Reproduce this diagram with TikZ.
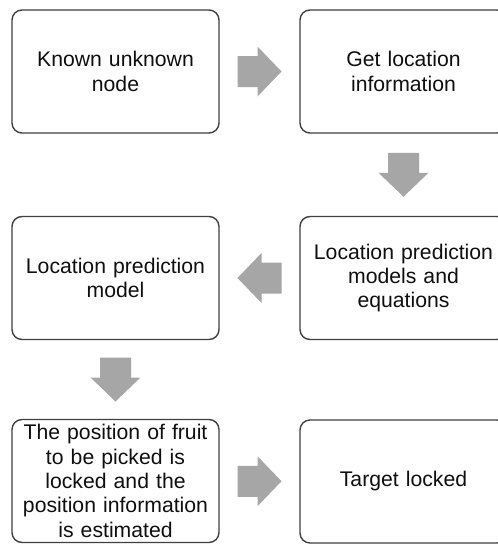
\documentclass[tikz,border=0pt]{standalone}
\usepackage{fontspec}
\setmainfont{Liberation Sans}
\usetikzlibrary{calc}
\definecolor{arrowgray}{RGB}{166,166,166}
\definecolor{boxline}{RGB}{64,64,64}
\definecolor{txt}{RGB}{15,15,15}
\tikzset{
  stepbox/.style={draw=boxline, line width=1.4pt, rounded corners=10pt,
    minimum width=207pt, minimum height=123pt, inner sep=0pt,
    text width=200pt, align=center, text=txt,
    font=\fontsize{21.2}{24.3}\selectfont},
  blockarrow/.pic={\fill[arrowgray] (-22,-15.5) -- (-2,-15.5) -- (-2,-25) -- (22,0) -- (-2,25) -- (-2,15.5) -- (-22,15.5) -- cycle;}
}
\begin{document}
\begin{tikzpicture}[x=1pt,y=-1pt]
\clip (0,0) rectangle (498,544);
\fill[white] (0,0) rectangle (498,544);
\node[stepbox] (b1) at (115.5,71.5) {\raisebox{-2pt}{\parbox{200pt}{\centering Known unknown\\node}}};
\node[stepbox] (b2) at (403.5,71.5) {\raisebox{-2pt}{\parbox{200pt}{\centering Get location\\information}}};
\node[stepbox] (b3) at (403.5,278) {\raisebox{-2pt}{\parbox{200pt}{\centering Location prediction\\models and\\equations}}};
\node[stepbox] (b4) at (115.5,278) {\raisebox{-2pt}{\parbox{200pt}{\centering Location prediction\\model}}};
\node[stepbox] (b5) at (115.5,481) {The position of fruit\\to be picked is\\locked and the\\position information\\is estimated};
\node[stepbox] (b6) at (403.5,481.5) {\raisebox{-3pt}{\parbox{200pt}{\centering Target locked}}};
\pic at ($(b1.east)!0.5!(b2.west)$) {blockarrow};
\pic[rotate=-90] at ($(b2.south)!0.5!(b3.north)$) {blockarrow};
\pic[rotate=180] at ($(b3.west)!0.5!(b4.east)$) {blockarrow};
\pic[rotate=-90] at ($(b4.south)!0.5!(b5.north)$) {blockarrow};
\pic at ($(b5.east)!0.5!(b6.west)$) {blockarrow};
\end{tikzpicture}
\end{document}
